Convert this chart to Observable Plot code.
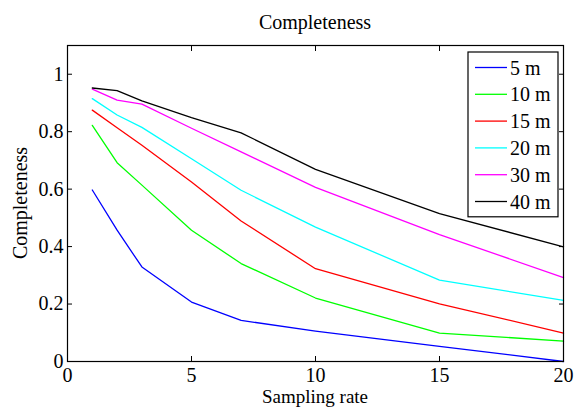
<!DOCTYPE html>
<html>
<head>
<meta charset="utf-8">
<script src="https://cdn.jsdelivr.net/npm/d3@7"></script>
<script src="https://cdn.jsdelivr.net/npm/@observablehq/plot@0.6"></script>
<style>
  html, body { margin: 0; padding: 0; background: white; }
</style>
</head>
<body>
<div id="chart"></div>
<script>
const rates = [1, 2, 3, 5, 7, 10, 15, 20];
const seriesNames = ["5 m", "10 m", "15 m", "20 m", "30 m", "40 m"];
const seriesColors = ["#0000ff", "#00ff00", "#ff0000", "#00ffff", "#ff00ff", "#000000"];
const m5  = [0.597, 0.457, 0.329, 0.207, 0.143, 0.106, 0.053, 0.000];
const m10 = [0.822, 0.692, 0.614, 0.457, 0.341, 0.221, 0.099, 0.071];
const m15 = [0.875, 0.814, 0.753, 0.625, 0.489, 0.323, 0.201, 0.099];
const m20 = [0.915, 0.858, 0.815, 0.706, 0.596, 0.468, 0.283, 0.213];
const m30 = [0.948, 0.910, 0.896, 0.812, 0.730, 0.606, 0.442, 0.292];
const m40 = [0.952, 0.943, 0.907, 0.849, 0.796, 0.669, 0.515, 0.399];
const xTicks = [0, 5, 10, 15, 20];
const yTicks = [0, 0.2, 0.4, 0.6, 0.8, 1];
const titleText = "Completeness";
const xLabel = "Sampling rate";
const yLabel = "Completeness";

const allSeries = [m5, m10, m15, m20, m30, m40];
const data = [];
allSeries.forEach((vals, si) => {
  vals.forEach((v, i) => data.push({series: seriesNames[si], rate: rates[i], value: v}));
});

const font = "'Times New Roman', 'Liberation Serif', serif";
const W = 576, H = 407, mL = 67, mR = 13, mT = 45, mB = 46;
const blank = () => "";

const svg = Plot.plot({
  width: W, height: H,
  marginLeft: mL, marginRight: mR, marginTop: mT, marginBottom: mB,
  style: {fontFamily: font, fontSize: "20px", background: "white", color: "#000"},
  x: {domain: [0, 20]},
  y: {domain: [0, 1.1]},
  color: {domain: seriesNames, range: seriesColors},
  marks: [
    Plot.line(data, {x: "rate", y: "value", z: "series", stroke: "series", strokeWidth: 1.3}),
    Plot.axisX(xTicks, {anchor: "bottom", tickSize: 0, tickPadding: 6, label: null, fontSize: 20}),
    Plot.axisX(xTicks, {anchor: "bottom", tickSize: -5, tickFormat: blank, label: null}),
    Plot.axisX(xTicks, {anchor: "top", tickSize: -5, tickFormat: blank, label: null}),
    Plot.axisY(yTicks, {anchor: "left", tickSize: 0, tickPadding: 4, label: null, fontSize: 20, tickFormat: d => String(d)}),
    Plot.axisY(yTicks, {anchor: "left", tickSize: -5, tickFormat: blank, label: null}),
    Plot.axisY(yTicks, {anchor: "right", tickSize: -5, tickFormat: blank, label: null}),
    Plot.frame({stroke: "black", strokeWidth: 1.2})
  ]
});

const s = d3.select(svg);
const cx = mL + (W - mL - mR) / 2;
const cy = mT + (H - mT - mB) / 2;
s.append("text").attr("x", cx).attr("y", 29).attr("text-anchor", "middle")
  .attr("font-family", font).attr("font-size", 20).attr("fill", "black").text(titleText);
s.append("text").attr("x", cx).attr("y", 402.5).attr("text-anchor", "middle")
  .attr("font-family", font).attr("font-size", 19).attr("fill", "black").text(xLabel);
s.append("text").attr("transform", `translate(27,${cy}) rotate(-90)`).attr("text-anchor", "middle")
  .attr("font-family", font).attr("font-size", 20).attr("fill", "black").text(yLabel);

// legend
const lg = s.append("g");
const lx = 468, ly = 52, lw = 90, rowH = 26.8;
const lh = rowH * seriesNames.length + 4;
lg.append("rect").attr("x", lx).attr("y", ly).attr("width", lw).attr("height", lh)
  .attr("fill", "white").attr("stroke", "black").attr("stroke-width", 1.2);
seriesNames.forEach((name, i) => {
  const yy = ly + 15.5 + i * rowH;
  lg.append("line").attr("x1", lx + 7).attr("x2", lx + 39).attr("y1", yy).attr("y2", yy)
    .attr("stroke", seriesColors[i]).attr("stroke-width", 1.3);
  lg.append("text").attr("x", lx + 42).attr("y", yy + 7).attr("text-anchor", "start")
    .attr("font-family", font).attr("font-size", 20).attr("fill", "black").text(name);
});

document.getElementById("chart").appendChild(svg);
</script>
</body>
</html>
